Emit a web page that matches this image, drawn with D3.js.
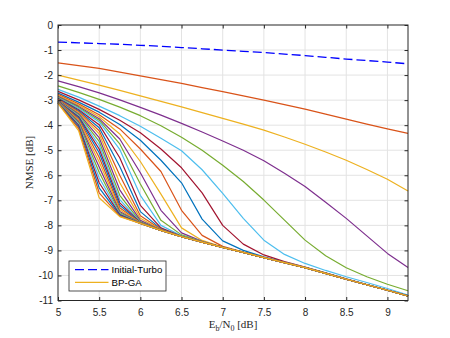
<!DOCTYPE html>
<html><head><meta charset="utf-8">
<script src="https://cdn.jsdelivr.net/npm/d3@7"></script>
<style>body{margin:0;background:#fff}svg{display:block}</style>
</head><body>
<svg id="c" width="450" height="338"></svg>
<script>
// ---- data ----
const ebn0 = [5,5.25,5.5,5.75,6,6.25,6.5,6.75,7,7.25,7.5,7.75,8,8.25,8.5,8.75,9,9.25];
const initialTurbo = [-0.68,-0.71,-0.74,-0.77,-0.81,-0.85,-0.9,-0.95,-1.0,-1.05,-1.1,-1.16,-1.22,-1.29,-1.36,-1.42,-1.48,-1.55];
const bpga = [
  [-1.51,-1.62,-1.73,-1.88,-2.03,-2.18,-2.33,-2.5,-2.66,-2.83,-3.0,-3.18,-3.36,-3.56,-3.76,-3.96,-4.15,-4.33],
  [-2.0,-2.2,-2.4,-2.61,-2.83,-3.05,-3.27,-3.5,-3.73,-3.96,-4.2,-4.47,-4.76,-5.07,-5.4,-5.77,-6.16,-6.63],
  [-2.23,-2.46,-2.71,-2.99,-3.29,-3.6,-3.93,-4.27,-4.63,-5.0,-5.42,-5.92,-6.45,-7.08,-7.72,-8.42,-9.12,-9.68],
  [-2.43,-2.69,-2.97,-3.28,-3.62,-4.02,-4.48,-5.0,-5.6,-6.25,-6.99,-7.79,-8.59,-9.21,-9.69,-10.05,-10.35,-10.61],
  [-2.57,-2.88,-3.24,-3.62,-4.04,-4.52,-5.02,-5.78,-6.72,-7.72,-8.59,-9.16,-9.52,-9.8,-10.05,-10.28,-10.52,-10.78],
  [-2.65,-2.99,-3.37,-3.8,-4.3,-4.95,-5.7,-6.7,-8.0,-8.75,-9.18,-9.45,-9.67,-9.9,-10.13,-10.36,-10.58,-10.81],
  [-2.72,-3.08,-3.48,-3.97,-4.6,-5.4,-6.3,-7.75,-8.62,-9.0,-9.26,-9.48,-9.68,-9.91,-10.14,-10.37,-10.59,-10.82],
  [-2.77,-3.15,-3.58,-4.15,-4.95,-5.85,-7.4,-8.4,-8.84,-9.07,-9.28,-9.49,-9.69,-9.92,-10.15,-10.37,-10.59,-10.82],
  [-2.81,-3.2,-3.66,-4.35,-5.45,-6.75,-8.1,-8.6,-8.87,-9.08,-9.29,-9.49,-9.69,-9.92,-10.15,-10.37,-10.59,-10.82],
  [-2.85,-3.25,-3.74,-4.55,-5.9,-7.4,-8.3,-8.64,-8.88,-9.08,-9.29,-9.49,-9.69,-9.92,-10.15,-10.37,-10.59,-10.82],
  [-2.88,-3.29,-3.8,-4.75,-6.35,-7.8,-8.38,-8.65,-8.88,-9.08,-9.29,-9.49,-9.69,-9.92,-10.15,-10.37,-10.59,-10.82],
  [-2.91,-3.33,-3.87,-4.97,-6.8,-8.0,-8.42,-8.66,-8.88,-9.08,-9.29,-9.49,-9.69,-9.92,-10.15,-10.37,-10.59,-10.82],
  [-2.93,-3.38,-3.98,-5.3,-7.2,-8.1,-8.44,-8.67,-8.88,-9.08,-9.29,-9.49,-9.69,-9.92,-10.15,-10.37,-10.59,-10.82],
  [-2.95,-3.42,-4.1,-5.65,-7.45,-8.14,-8.45,-8.67,-8.88,-9.08,-9.29,-9.49,-9.69,-9.92,-10.15,-10.37,-10.59,-10.82],
  [-2.97,-3.46,-4.22,-6.0,-7.62,-8.16,-8.45,-8.67,-8.88,-9.08,-9.29,-9.49,-9.69,-9.92,-10.15,-10.37,-10.59,-10.82],
  [-2.99,-3.5,-4.35,-6.3,-7.72,-8.18,-8.45,-8.67,-8.88,-9.08,-9.29,-9.49,-9.69,-9.92,-10.15,-10.37,-10.59,-10.82],
  [-3.0,-3.54,-4.5,-6.58,-7.8,-8.19,-8.45,-8.67,-8.88,-9.08,-9.29,-9.49,-9.69,-9.92,-10.15,-10.37,-10.59,-10.82],
  [-3.02,-3.58,-4.65,-6.8,-7.85,-8.19,-8.45,-8.67,-8.88,-9.08,-9.29,-9.49,-9.69,-9.92,-10.15,-10.37,-10.59,-10.82],
  [-3.03,-3.62,-4.8,-6.97,-7.87,-8.2,-8.45,-8.67,-8.88,-9.08,-9.29,-9.49,-9.69,-9.92,-10.15,-10.37,-10.59,-10.82],
  [-3.04,-3.66,-4.95,-7.1,-7.88,-8.2,-8.45,-8.67,-8.88,-9.08,-9.29,-9.49,-9.69,-9.92,-10.15,-10.37,-10.59,-10.82],
  [-3.05,-3.7,-5.1,-7.2,-7.89,-8.2,-8.45,-8.67,-8.88,-9.08,-9.29,-9.49,-9.69,-9.92,-10.15,-10.37,-10.59,-10.82],
  [-3.06,-3.75,-5.28,-7.3,-7.9,-8.2,-8.45,-8.67,-8.88,-9.08,-9.29,-9.49,-9.69,-9.92,-10.15,-10.37,-10.59,-10.82],
  [-3.07,-3.8,-5.47,-7.38,-7.9,-8.2,-8.45,-8.67,-8.88,-9.08,-9.29,-9.49,-9.69,-9.92,-10.15,-10.37,-10.59,-10.82],
  [-3.08,-3.85,-5.67,-7.45,-7.91,-8.2,-8.45,-8.67,-8.88,-9.08,-9.29,-9.49,-9.69,-9.92,-10.15,-10.37,-10.59,-10.82],
  [-3.09,-3.9,-5.88,-7.5,-7.91,-8.2,-8.45,-8.67,-8.88,-9.08,-9.29,-9.49,-9.69,-9.92,-10.15,-10.37,-10.59,-10.82],
  [-3.1,-3.95,-6.1,-7.54,-7.92,-8.2,-8.45,-8.67,-8.88,-9.08,-9.29,-9.49,-9.69,-9.92,-10.15,-10.37,-10.59,-10.82],
  [-3.11,-4.0,-6.3,-7.57,-7.92,-8.2,-8.45,-8.67,-8.88,-9.08,-9.29,-9.49,-9.69,-9.92,-10.15,-10.37,-10.59,-10.82],
  [-3.11,-4.06,-6.5,-7.6,-7.92,-8.2,-8.45,-8.67,-8.88,-9.08,-9.29,-9.49,-9.69,-9.92,-10.15,-10.37,-10.59,-10.82],
  [-3.12,-4.13,-6.7,-7.63,-7.92,-8.2,-8.45,-8.67,-8.88,-9.08,-9.29,-9.49,-9.69,-9.92,-10.15,-10.37,-10.59,-10.82],
  [-3.13,-4.22,-6.9,-7.65,-7.92,-8.2,-8.45,-8.67,-8.88,-9.08,-9.29,-9.49,-9.69,-9.92,-10.15,-10.37,-10.59,-10.82]
];
const xTicks = [5,5.5,6,6.5,7,7.5,8,8.5,9];
const xTickLabels = ["5","5.5","6","6.5","7","7.5","8","8.5","9"];
const yTicks = [0,-1,-2,-3,-4,-5,-6,-7,-8,-9,-10,-11];
const yTickLabels = ["0","-1","-2","-3","-4","-5","-6","-7","-8","-9","-10","-11"];
const legendLabels = ["Initial-Turbo","BP-GA"];
const colorOrder = ["#0072BD","#D95319","#EDB120","#7E2F8E","#77AC30","#4DBEEE","#A2142F"];

// ---- layout ----
const L = 58, R = 408, T = 25, B = 300.5;
const ink = "#262626";
const svg = d3.select("#c");
const x = d3.scaleLinear().domain([5, 9.25]).range([L, R]);
const y = d3.scaleLinear().domain([-11, 0]).range([B, T]);

// grid
const grid = svg.append("g").attr("stroke", "#e3e3e3").attr("stroke-width", 1);
grid.selectAll("line.v").data(xTicks.filter(d => d > 5)).join("line")
  .attr("x1", d => x(d)).attr("x2", d => x(d)).attr("y1", T).attr("y2", B);
grid.selectAll("line.h").data(yTicks.filter(d => d > -11 && d < 0)).join("line")
  .attr("x1", L).attr("x2", R).attr("y1", d => y(d)).attr("y2", d => y(d));

// lines
const line = d3.line().x((d, i) => x(ebn0[i])).y(d => y(d));
const plot = svg.append("g").attr("fill", "none").attr("stroke-linejoin", "round");
plot.append("path").attr("d", line(initialTurbo))
  .attr("stroke", "#0000ff").attr("stroke-width", 1.3).attr("stroke-dasharray", "9,4");
bpga.forEach((s, k) => {
  plot.append("path").attr("d", line(s))
    .attr("stroke", colorOrder[(k + 1) % 7]).attr("stroke-width", 1.2);
});

// axes
const fontTick = "Liberation Sans, Arial, sans-serif";
function styleAxis(g) {
  g.select(".domain").remove();
  g.selectAll(".tick line").attr("stroke", ink);
  g.selectAll(".tick text").attr("fill", ink).attr("font-size", 10).attr("font-family", fontTick);
}
svg.append("g").attr("transform", `translate(0,${B})`)
  .call(d3.axisBottom(x).tickValues(xTicks).tickFormat((d, i) => xTickLabels[i]).tickSizeInner(-3.5).tickSizeOuter(0).tickPadding(8))
  .call(styleAxis);
svg.append("g").attr("transform", `translate(0,${T})`)
  .call(d3.axisTop(x).tickValues(xTicks).tickFormat("").tickSizeInner(-3.5).tickSizeOuter(0))
  .call(styleAxis);
svg.append("g").attr("transform", `translate(${L},0)`)
  .call(d3.axisLeft(y).tickValues(yTicks).tickFormat((d, i) => yTickLabels[i]).tickSizeInner(-3.5).tickSizeOuter(0).tickPadding(5))
  .call(styleAxis);
svg.append("g").attr("transform", `translate(${R},0)`)
  .call(d3.axisRight(y).tickValues(yTicks).tickFormat("").tickSizeInner(-3.5).tickSizeOuter(0))
  .call(styleAxis);

// box
svg.append("rect").attr("x", L).attr("y", T).attr("width", R - L).attr("height", B - T)
  .attr("fill", "none").attr("stroke", ink).attr("stroke-width", 1);

// axis labels
svg.append("text").attr("transform", "translate(33,162.5) rotate(-90)")
  .attr("text-anchor", "middle").attr("font-family", "Liberation Serif, Times New Roman, serif")
  .attr("font-size", 11).attr("fill", ink).text("NMSE [dB]");
const xl = svg.append("text").attr("x", 233).attr("y", 328).attr("text-anchor", "middle")
  .attr("font-family", "Liberation Serif, Times New Roman, serif").attr("font-size", 11).attr("fill", ink);
xl.append("tspan").text("E");
xl.append("tspan").attr("font-size", 8).attr("dy", 3).text("b");
xl.append("tspan").attr("dy", -3).text("/N");
xl.append("tspan").attr("font-size", 8).attr("dy", 3).text("0");
xl.append("tspan").attr("dy", -3).text(" [dB]");

// legend
const lg = svg.append("g");
lg.append("rect").attr("x", 69).attr("y", 261).attr("width", 97).attr("height", 30)
  .attr("fill", "#fff").attr("stroke", ink).attr("stroke-width", 0.8);
const entries = [
  {label: legendLabels[0], color: "#0000ff", dash: "9,4", w: 1.3, yy: 269.7},
  {label: legendLabels[1], color: colorOrder[2], dash: null, w: 1.2, yy: 282.3}
];
entries.forEach(e => {
  lg.append("line").attr("x1", 75).attr("x2", 108.5).attr("y1", e.yy).attr("y2", e.yy)
    .attr("stroke", e.color).attr("stroke-width", e.w).attr("stroke-dasharray", e.dash);
  lg.append("text").attr("x", 111.5).attr("y", e.yy).attr("dy", "0.35em")
    .attr("font-family", fontTick).attr("font-size", 9.7).attr("fill", "#000").text(e.label);
});
</script>
</body></html>
